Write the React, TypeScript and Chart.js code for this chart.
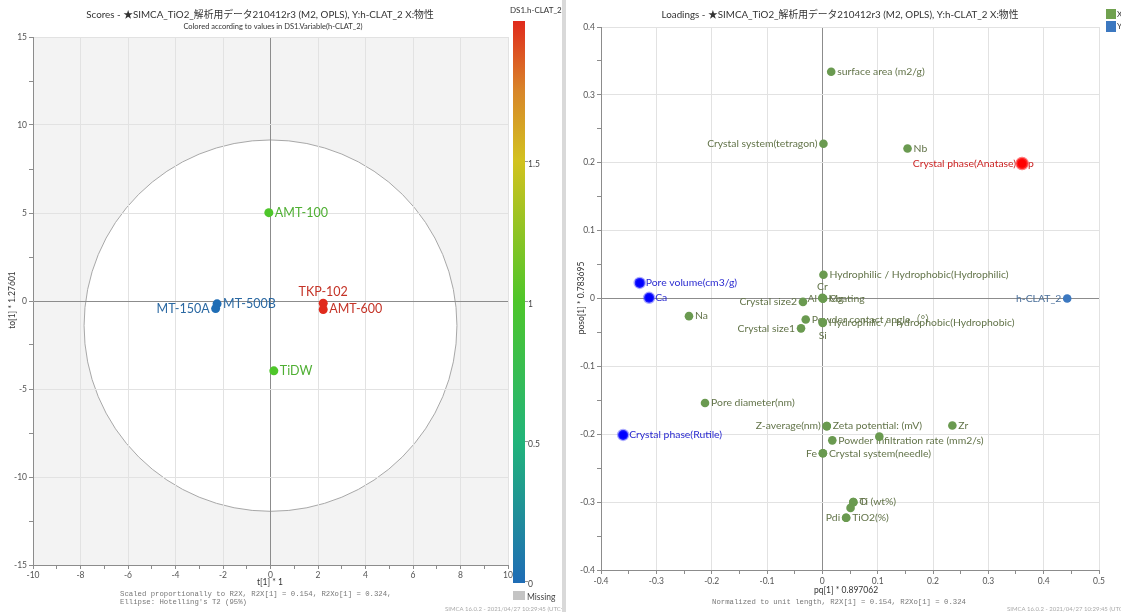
import React, { useEffect, useRef } from 'react';
import { Chart, registerables } from 'chart.js';
Chart.register(...registerables);

// ---------------- Scores data ----------------
const scoreNames = ['AMT-100', 'TiDW', 'TKP-102', 'AMT-600', 'MT-500B', 'MT-150A'];
const scoreT1 = [-0.07, 0.14, 2.22, 2.22, -2.25, -2.31];
const scoreTo1 = [5.02, -3.97, -0.13, -0.48, -0.16, -0.43];
const scoreHClat = [1.0, 1.0, 2.0, 2.0, 0.0, 0.0];
const scoreLabelSide = ['right', 'right', 'above', 'right', 'right', 'left'];
const scoreXTickLabels = [-10, -8, -6, -4, -2, 0, 2, 4, 6, 8, 10];
const scoreYTickLabels = [-15, -10, -5, 0, 5, 10, 15];
const ellipseCenterT1 = 0;
const ellipseCenterTo1 = -1.4;
const ellipseT1 = 7.85;
const ellipseTo1 = 10.55;
const colorBarTicks = [0, 0.5, 1, 1.5];
const colorBarMax = 2.0;
const colorStopValues = [0, 0.5, 1, 1.5, 1.75, 2];
const colorStopHex = ['#1f6db5', '#21b47a', '#4ec62a', '#d2c21f', '#d8862a', '#e02a1c'];

// ---------------- Loadings data ----------------
const loadNames = [
  'surface area (m2/g)', 'Crystal system(tetragon)', 'Nb', 'Crystal phase(Anatase)', 'p',
  'Hydrophilic / Hydrophobic(Hydrophilic)', 'Cr', 'Al', 'Coating', 'Mg', 'Crystal size2', 'Na',
  'Pore volume(cm3/g)', 'Ca', 'Powder contact angle（°）', 'Hydrophilic / Hydrophobic(Hydrophobic)', 'Si',
  'Crystal size1', 'h-CLAT_2', 'Pore diameter(nm)', 'Crystal phase(Rutile)', 'Z-average(nm)',
  'Zeta potential: (mV)', 'Zr', '', 'Powder infiltration rate (mm2/s)', 'Fe', 'Crystal system(needle)',
  'Ti (wt%)', 'O', '', 'Pdi', 'TiO2(%)'
];
const loadPq = [
  0.016, 0.002, 0.154, 0.361, 0.361,
  0.002, 0.0, 0.001, 0.0015, 0.0005, -0.035, -0.241,
  -0.33, -0.313, -0.030, 0.0007, 0.0007,
  -0.0385, 0.4425, -0.212, -0.36, 0.008,
  0.008, 0.235, 0.103, 0.018, 0.001, 0.001,
  0.056, 0.056, 0.051, 0.043, 0.043
];
const loadPoso = [
  0.334, 0.228, 0.221, 0.199, 0.199,
  0.035, 0.001, 0.0, 0.0, 0.0, -0.005, -0.026,
  0.023, 0.001, -0.031, -0.035, -0.036,
  -0.044, 0.0, -0.154, -0.201, -0.188,
  -0.188, -0.187, -0.2035, -0.209, -0.228, -0.228,
  -0.300, -0.300, -0.3085, -0.323, -0.323
];
const loadBlock = [
  'X', 'X', 'X', 'X', 'X',
  'X', 'X', 'X', 'X', 'X', 'X', 'X',
  'X', 'X', 'X', 'X', 'X',
  'X', 'Y', 'X', 'X', 'X',
  'X', 'X', 'X', 'X', 'X', 'X',
  'X', 'X', 'X', 'X', 'X'
];
const loadLabelSide = [
  'right', 'left', 'right', 'left', 'right',
  'right', 'above', 'left', 'right', 'right', 'left', 'right',
  'right', 'right', 'right', 'right', 'below',
  'left', 'left', 'right', 'right', 'left',
  'right', 'right', 'none', 'right', 'left', 'right',
  'right', 'right', 'none', 'left', 'right'
];
const highlightBlue = ['Pore volume(cm3/g)', 'Ca', 'Crystal phase(Rutile)'];
const highlightRed = ['Crystal phase(Anatase)', 'p'];
const loadXTickLabels = [-0.4, -0.3, -0.2, -0.1, 0, 0.1, 0.2, 0.3, 0.4, 0.5];
const loadYTickLabels = [-0.4, -0.3, -0.2, -0.1, 0, 0.1, 0.2, 0.3, 0.4];

// ---------------- styles ----------------
const FONT = 'Lato, "Noto Sans", "Noto Sans CJK JP", sans-serif';
const MONO = '"Liberation Mono", "DejaVu Sans Mono", monospace';
const TICK_COLOR = '#555';
const AXIS_COLOR = '#8c8c8c';
const GRID_COLOR = '#e2e2e2';
const X_GREEN = '#6a9a50';
const X_LABEL = '#63744a';
const Y_BLUE = '#3c78c0';

function hexToRgb(h: string) {
  const n = parseInt(h.slice(1), 16);
  return [(n >> 16) & 255, (n >> 8) & 255, n & 255];
}
function rgbStr(c: number[]) {
  return `rgb(${Math.round(c[0])},${Math.round(c[1])},${Math.round(c[2])})`;
}
function colorFor(v: number) {
  for (let i = 0; i < colorStopValues.length - 1; i++) {
    const a = colorStopValues[i], b = colorStopValues[i + 1];
    if (v <= b || i === colorStopValues.length - 2) {
      const t = Math.max(0, Math.min(1, (v - a) / (b - a)));
      const ca = hexToRgb(colorStopHex[i]), cb = hexToRgb(colorStopHex[i + 1]);
      return rgbStr(ca.map((x, k) => x + (cb[k] - x) * t));
    }
  }
  return colorStopHex[0];
}
function labelColorFor(v: number) {
  const c = colorFor(v).match(/\d+/g)!.map(Number);
  return rgbStr(c.map((x) => x * 0.8 + 0x55 * 0.2));
}

function isLabeled(v: number, list: number[]) {
  return list.some((l) => Math.abs(l - v) < 1e-6);
}
function fmt(v: number) {
  const r = Math.round(v * 10) / 10;
  return Math.abs(r) < 1e-9 ? '0' : String(r);
}

function drawLabel(ctx: CanvasRenderingContext2D, px: number, py: number, text: string, side: string, color: string, font: string) {
  if (!text || side === 'none') return;
  ctx.save();
  ctx.font = font;
  ctx.fillStyle = color;
  ctx.textBaseline = 'middle';
  if (side === 'right') { ctx.textAlign = 'left'; ctx.fillText(text, px + 6, py); }
  else if (side === 'left') { ctx.textAlign = 'right'; ctx.fillText(text, px - 6, py); }
  else if (side === 'above') { ctx.textAlign = 'center'; ctx.fillText(text, px, py - 11); }
  else if (side === 'below') { ctx.textAlign = 'center'; ctx.fillText(text, px, py + 13); }
  ctx.restore();
}

function txt(ctx: CanvasRenderingContext2D, s: string, x: number, y: number, font: string, color: string, align: CanvasTextAlign = 'left', rot = 0) {
  ctx.save();
  ctx.font = font;
  ctx.fillStyle = color;
  ctx.textAlign = align;
  ctx.textBaseline = 'middle';
  ctx.translate(x, y);
  if (rot) ctx.rotate(rot);
  ctx.fillText(s, 0, 0);
  ctx.restore();
}

function gridColor(labels: number[], strongZero = true) {
  return (c: any) => {
    const v = c.tick ? c.tick.value : NaN;
    if (strongZero && Math.abs(v) < 1e-9) return AXIS_COLOR;
    return isLabeled(v, labels) ? GRID_COLOR : 'rgba(0,0,0,0)';
  };
}

// ---------------- Scores chart ----------------
function scoresConfig(): any {
  const plugin = {
    id: 'scoresDecor',
    beforeDraw(chart: any) {
      const { ctx, chartArea: a, scales } = chart;
      const x = scales.x, y = scales.y;
      ctx.save();
      ctx.fillStyle = '#f3f3f3';
      ctx.fillRect(a.left, a.top, a.width, a.height);
      const cx = x.getPixelForValue(ellipseCenterT1), cy = y.getPixelForValue(ellipseCenterTo1);
      const rx = x.getPixelForValue(ellipseCenterT1 + ellipseT1) - cx;
      const ry = cy - y.getPixelForValue(ellipseCenterTo1 + ellipseTo1);
      ctx.beginPath();
      ctx.ellipse(cx, cy, rx, ry, 0, 0, Math.PI * 2);
      ctx.fillStyle = '#ffffff';
      ctx.fill();
      ctx.strokeStyle = '#a8a8a8';
      ctx.lineWidth = 1;
      ctx.stroke();
      ctx.restore();
    },
    beforeDatasetsDraw(chart: any) {
      const { ctx, scales } = chart;
      scoreNames.forEach((n, i) => {
        const px = scales.x.getPixelForValue(scoreT1[i]);
        const py = scales.y.getPixelForValue(scoreTo1[i]);
        drawLabel(ctx, px, py, n, scoreLabelSide[i], labelColorFor(scoreHClat[i]), `12.5px ${FONT}`);
      });
    },
    afterDraw(chart: any) {
      const { ctx } = chart;
      txt(ctx, 'Scores - ★SIMCA_TiO2_解析用データ210412r3 (M2, OPLS), Y:h-CLAT_2 X:物性', 260, 15, `9.8px ${FONT}`, '#333', 'center');
      txt(ctx, 'Colored according to values in DS1.Variable(h-CLAT_2)', 273, 27, `7.5px ${FONT}`, '#333', 'center');
      txt(ctx, 't[1] * 1', 270, 582, `8.5px ${FONT}`, '#333', 'center');
      txt(ctx, 'to[1] * 1.27601', 12, 300, `8.5px ${FONT}`, '#333', 'center', -Math.PI / 2);
      txt(ctx, "Scaled proportionally to R2X, R2X[1] = 0.154, R2Xo[1] = 0.324,", 120, 594, `7.3px ${MONO}`, '#777');
      txt(ctx, "Ellipse: Hotelling's T2 (95%)", 120, 602, `7.3px ${MONO}`, '#777');
      // colour bar
      const cbTop = 21, cbBottom = 581, cbX = 513, cbW = 12;
      const yOf = (v: number) => cbBottom - (v / colorBarMax) * (cbBottom - cbTop);
      const g = ctx.createLinearGradient(0, cbTop, 0, cbBottom);
      colorStopValues.forEach((v, i) => g.addColorStop(1 - v / colorBarMax, colorStopHex[i]));
      ctx.save();
      ctx.fillStyle = g;
      ctx.fillRect(cbX, cbTop, cbW, cbBottom - cbTop + 2);
      ctx.strokeStyle = '#999';
      colorBarTicks.forEach((v) => {
        ctx.beginPath();
        ctx.moveTo(cbX + cbW, yOf(v) + 0.5);
        ctx.lineTo(cbX + cbW + 3, yOf(v) + 0.5);
        ctx.stroke();
      });
      ctx.fillStyle = '#c4c4c4';
      ctx.fillRect(cbX, 591, cbW, 9);
      ctx.restore();
      colorBarTicks.forEach((v) => txt(ctx, String(v), cbX + cbW + 3, yOf(v) + 3, `8.5px ${FONT}`, '#444'));
      txt(ctx, 'DS1.h-CLAT_2', 510, 10, `8px ${FONT}`, '#333');
      txt(ctx, 'Missing', 527, 597, `8.5px ${FONT}`, '#444');
      txt(ctx, 'SIMCA 16.0.2 - 2021/04/27 10:29:45 (UTC+9)', 445, 609, `6px ${FONT}`, '#aaa');
    }
  };
  return {
    type: 'scatter',
    data: {
      datasets: [{
        data: scoreT1.map((t, i) => ({ x: t, y: scoreTo1[i] })),
        pointBackgroundColor: scoreHClat.map(colorFor),
        pointBorderColor: scoreHClat.map(colorFor),
        pointBorderWidth: 0,
        pointRadius: 4.5,
      }]
    },
    options: {
      animation: false,
      responsive: false,
      maintainAspectRatio: false,
      layout: { padding: { left: 0, right: 54, top: 37, bottom: 29 } },
      plugins: { legend: { display: false }, tooltip: { enabled: false }, title: { display: false } },
      scales: {
        x: {
          type: 'linear', min: -10, max: 10,
          afterFit: (s: any) => { s.height = 18; },
          ticks: {
            stepSize: 1, autoSkip: false, maxRotation: 0, padding: 1,
            color: TICK_COLOR, font: { family: FONT, size: 8.5 },
            callback: (v: number) => (isLabeled(v, scoreXTickLabels) ? String(v) : ''),
          },
          grid: { color: gridColor(scoreXTickLabels), tickColor: AXIS_COLOR, tickLength: 4 },
          border: { display: true, color: AXIS_COLOR },
        },
        y: {
          type: 'linear', min: -15, max: 15,
          afterFit: (s: any) => { s.width = 33; },
          ticks: {
            stepSize: 2.5, autoSkip: false, padding: 2,
            color: TICK_COLOR, font: { family: FONT, size: 8.5 },
            callback: (v: number) => (isLabeled(v, scoreYTickLabels) ? String(v) : ''),
          },
          grid: { color: gridColor(scoreYTickLabels), tickColor: AXIS_COLOR, tickLength: 4 },
          border: { display: true, color: AXIS_COLOR },
        },
      },
    },
    plugins: [plugin],
  };
}

// ---------------- Loadings chart ----------------
function loadingsConfig(): any {
  const idx = loadNames.map((_, i) => i);
  const isBlue = (i: number) => highlightBlue.includes(loadNames[i]);
  const isRed = (i: number) => highlightRed.includes(loadNames[i]);
  const normalX = idx.filter((i) => loadBlock[i] === 'X' && !isBlue(i) && !isRed(i));
  const yVars = idx.filter((i) => loadBlock[i] === 'Y');
  const blue = idx.filter(isBlue);
  const red = idx.filter(isRed);
  const pts = (list: number[]) => list.map((i) => ({ x: loadPq[i], y: loadPoso[i] }));

  const plugin = {
    id: 'loadDecor',
    beforeDatasetsDraw(chart: any) {
      const { ctx, scales } = chart;
      idx.forEach((i) => {
        const px = scales.x.getPixelForValue(loadPq[i]);
        const py = scales.y.getPixelForValue(loadPoso[i]);
        let color = X_LABEL;
        if (isBlue(i)) color = '#2a2ad0';
        else if (isRed(i)) color = '#cc2424';
        else if (loadBlock[i] === 'Y') color = '#4a6f9a';
        drawLabel(ctx, px, py, loadNames[i], loadLabelSide[i], color, `10.4px ${FONT}`);
      });
    },
    afterDraw(chart: any) {
      const { ctx } = chart;
      txt(ctx, 'Loadings - ★SIMCA_TiO2_解析用データ210412r3 (M2, OPLS), Y:h-CLAT_2 X:物性', 274, 15, `9.8px ${FONT}`, '#333', 'center');
      txt(ctx, 'pq[1] * 0.897062', 280, 590, `8.5px ${FONT}`, '#333', 'center');
      txt(ctx, 'poso[1] * 0.783695', 15, 298, `8.5px ${FONT}`, '#333', 'center', -Math.PI / 2);
      txt(ctx, 'Normalized to unit length, R2X[1] = 0.154, R2Xo[1] = 0.324', 273, 602, `7.3px ${MONO}`, '#777', 'center');
      txt(ctx, 'SIMCA 16.0.2 - 2021/04/27 10:29:45 (UTC+9)', 441, 609, `6px ${FONT}`, '#aaa');
      ctx.save();
      ctx.fillStyle = '#70a14f';
      ctx.fillRect(540, 9, 10, 10);
      ctx.fillStyle = Y_BLUE;
      ctx.fillRect(540, 21, 10, 11);
      ctx.restore();
      txt(ctx, 'X', 551, 14, `8px ${FONT}`, '#333');
      txt(ctx, 'Y', 551, 26, `8px ${FONT}`, '#333');
    },
  };

  return {
    type: 'scatter',
    data: {
      datasets: [
        { data: pts(normalX), pointBackgroundColor: X_GREEN, pointBorderWidth: 0, pointRadius: 4.3 },
        { data: pts(yVars), pointBackgroundColor: Y_BLUE, pointBorderWidth: 0, pointRadius: 4.3 },
        { data: pts(blue), pointBackgroundColor: '#0000ff', pointBorderColor: 'rgba(70,70,255,0.45)', pointBorderWidth: 2.5, pointRadius: 5 },
        { data: pts(red), pointBackgroundColor: '#ff0000', pointBorderColor: 'rgba(255,70,70,0.45)', pointBorderWidth: 2.5, pointRadius: 5.5 },
      ],
    },
    options: {
      animation: false,
      responsive: false,
      maintainAspectRatio: false,
      layout: { padding: { left: 0, right: 22, top: 27, bottom: 22 } },
      plugins: { legend: { display: false }, tooltip: { enabled: false }, title: { display: false } },
      scales: {
        x: {
          type: 'linear', min: -0.4, max: 0.5,
          afterFit: (s: any) => { s.height = 20; },
          ticks: {
            stepSize: 0.05, autoSkip: false, maxRotation: 0, padding: 2,
            color: TICK_COLOR, font: { family: FONT, size: 8.5 },
            callback: (v: number) => (isLabeled(v, loadXTickLabels) ? fmt(v) : ''),
          },
          grid: { color: gridColor(loadXTickLabels), tickColor: AXIS_COLOR, tickLength: 4 },
          border: { display: true, color: AXIS_COLOR },
        },
        y: {
          type: 'linear', min: -0.4, max: 0.4,
          afterFit: (s: any) => { s.width = 35; },
          ticks: {
            stepSize: 0.05, autoSkip: false, padding: 2,
            color: TICK_COLOR, font: { family: FONT, size: 8.5 },
            callback: (v: number) => (isLabeled(v, loadYTickLabels) ? fmt(v) : ''),
          },
          grid: { color: gridColor(loadYTickLabels), tickColor: AXIS_COLOR, tickLength: 4 },
          border: { display: true, color: AXIS_COLOR },
        },
      },
    },
    plugins: [plugin],
  };
}

export default function App() {
  const leftRef = useRef<HTMLCanvasElement>(null);
  const rightRef = useRef<HTMLCanvasElement>(null);
  useEffect(() => {
    const c1 = new Chart(leftRef.current as HTMLCanvasElement, scoresConfig());
    const c2 = new Chart(rightRef.current as HTMLCanvasElement, loadingsConfig());
    return () => {
      c1.destroy();
      c2.destroy();
    };
  }, []);
  return (
    <div style={{ position: 'fixed', left: 0, top: 0, width: 1121, height: 612, background: '#fff', overflow: 'hidden' }}>
      <canvas ref={leftRef} width={562} height={612} style={{ position: 'absolute', left: 0, top: 0, width: 562, height: 612 }} />
      <div style={{ position: 'absolute', left: 562, top: 0, width: 4, height: 612, background: '#d9d9d9' }} />
      <canvas ref={rightRef} width={555} height={612} style={{ position: 'absolute', left: 566, top: 0, width: 555, height: 612 }} />
    </div>
  );
}
